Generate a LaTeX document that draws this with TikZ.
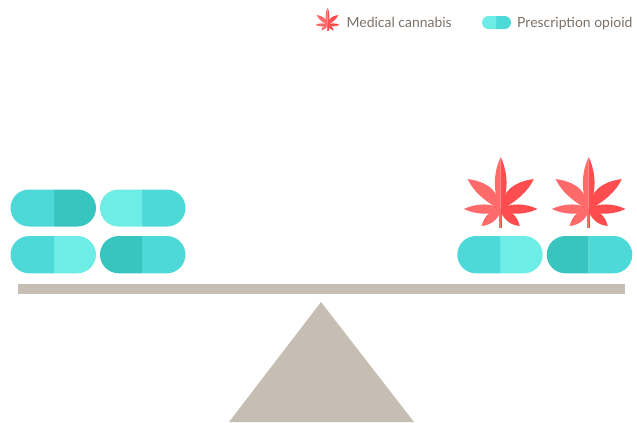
\documentclass[tikz,border=0pt]{standalone}
\usepackage{fontspec}
\setmainfont{Lato}
\definecolor{tealA}{HTML}{4DD9D8}
\definecolor{tealB}{HTML}{6DEDE6}
\definecolor{tealC}{HTML}{38C5BF}
\definecolor{leafL}{HTML}{FF6B6B}
\definecolor{leafD}{HTML}{FF4D4F}
\definecolor{scaleC}{HTML}{C7BEB3}
\definecolor{labelC}{HTML}{7A7068}
\newcommand{\halfplant}[1]{%
  \fill[#1] (0,2) -- (0,-51) .. controls (10,-30) and (5,-10) .. (0.8,0) -- cycle;
  \fill[#1] (0.5,0) .. controls (1.5,-16) and (12,-26) .. (33,-29) .. controls (28,-17) and (15,-6) .. (0.5,1.5) -- cycle;
  \fill[#1] (0,0.5) .. controls (10,-5) and (24,-5) .. (37,1) .. controls (24,7) and (10,7) .. (0,2.5) -- cycle;
  \fill[#1] (0,1) .. controls (9,1) and (17,8) .. (19,18) .. controls (9,17) and (3,11) .. (0,3.5) -- cycle;
  \fill[#1] (0,0) rectangle (1.3,20);
}
\newcommand{\plant}[3]{%
  \begin{scope}[shift={(#1,#2)},scale=#3]
    \halfplant{leafD}
    \begin{scope}[xscale=-1]\halfplant{leafL}\end{scope}
  \end{scope}
}
% left x, top y, right x, bottom y, split x, left colour, right colour
\newcommand{\pill}[7]{%
  \begin{scope}
    \pgfmathsetmacro{\rr}{(#4-#2)/2}
    \fill[#7] (#5,#2) -- (#3-\rr,#2) arc[start angle=90,end angle=-90,x radius=\rr,y radius=-\rr] -- (#5,#4) -- cycle;
    \fill[#6] (#5,#4) -- (#1+\rr,#4) arc[start angle=-90,end angle=-270,x radius=\rr,y radius=-\rr] -- (#5,#2) -- cycle;
  \end{scope}
}
\tikzset{legendlabel/.style={text=labelC,font=\fontsize{14}{16}\selectfont,anchor=base west,inner sep=0pt}}
\begin{document}
\begin{tikzpicture}[x=1bp,y=-1bp]
\useasboundingbox (0,0) rectangle (637,422);
% legend
\plant{327.5}{24.5}{0.33}
\node[legendlabel] (lcann) at (346.5,27) {Medical cannabis};
\pill{482}{16}{511}{29}{496}{tealB}{tealA}
\node[legendlabel] (lopi) at (517,27) {Prescription opioid};
% left pills
\pill{10.5}{189.5}{96}{226.5}{54}{tealA}{tealC}
\pill{100}{189.5}{185.5}{226.5}{142}{tealB}{tealA}
\pill{10.5}{236}{96}{273.3}{54}{tealA}{tealB}
\pill{100}{236}{185.5}{273.3}{142}{tealC}{tealA}
% right pills
\pill{457.3}{236}{542.7}{273.3}{500}{tealA}{tealB}
\pill{546.7}{236}{632.3}{273.3}{588.7}{tealC}{tealA}
% plants
\plant{500.7}{208}{1}
\plant{588.7}{208}{1}
% scale
\fill[scaleC] (18,284) rectangle (625,293.5);
\fill[scaleC] (321,302) -- (414,422) -- (229,422) -- cycle;
\end{tikzpicture}
\end{document}
